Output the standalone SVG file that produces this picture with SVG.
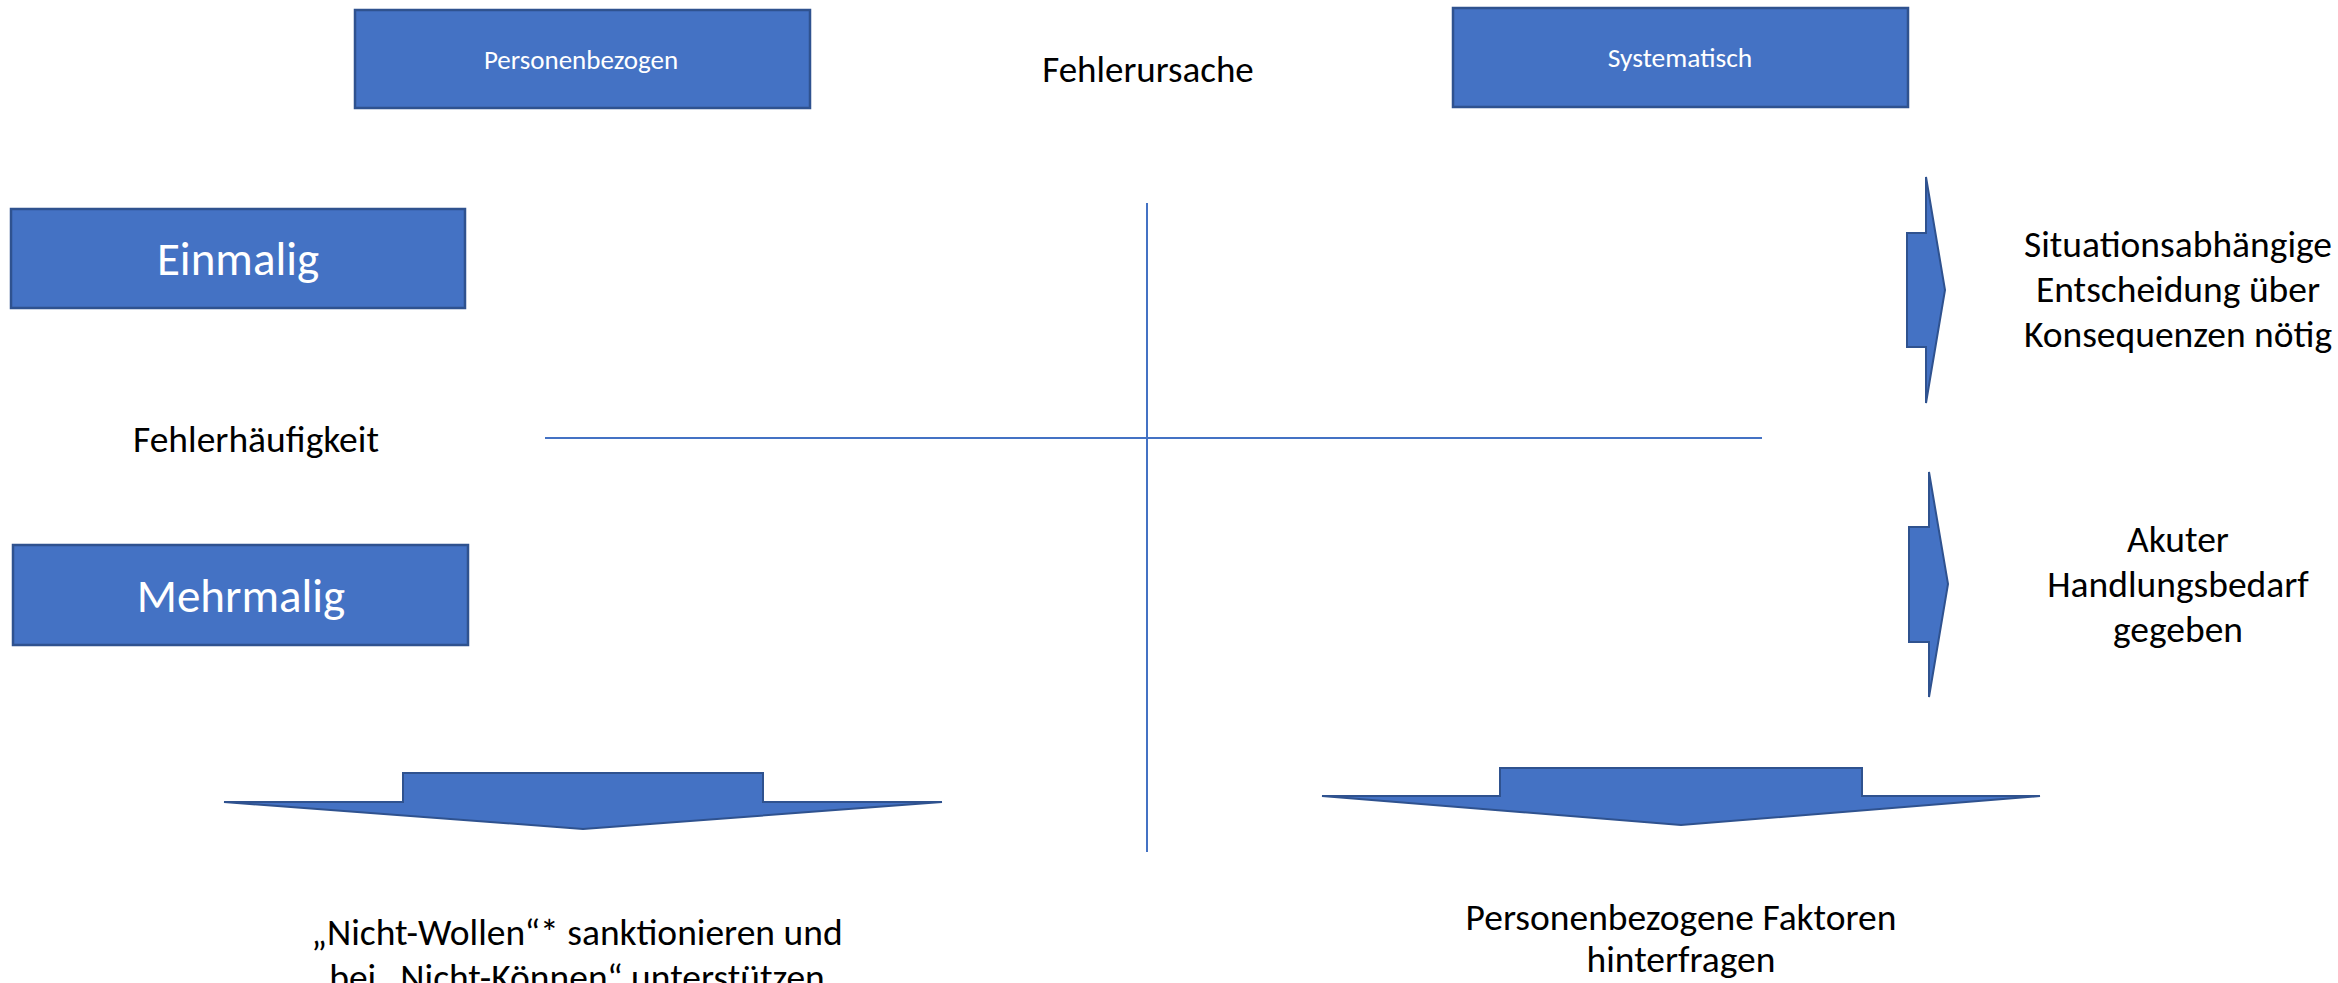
<svg xmlns="http://www.w3.org/2000/svg" width="2338" height="983" viewBox="0 0 2338 983">
<style>
.box{fill:#4472C4;stroke:#2F528F;stroke-width:2.5}
.arr{fill:#4472C4;stroke:#2F528F;stroke-width:2;stroke-linejoin:miter}
.axis{stroke:#4472C4;stroke-width:2;fill:none}
text{font-family:Calibri,Carlito,Lato,"Open Sans",sans-serif}
.wt{fill:#FFFFFF;text-anchor:middle}
.bt{fill:#000000;text-anchor:middle;font-size:37.5px}
</style>
<rect width="2338" height="983" fill="#FFFFFF"/>
<g id="axes">
<line class="axis" x1="1147" y1="203" x2="1147" y2="852"/>
<line class="axis" x1="545" y1="438" x2="1762" y2="438"/>
</g>
<g id="personenbezogen">
<rect class="box" x="355" y="10" width="455" height="98"/>
<text class="wt" x="581" y="69" font-size="27">Personenbezogen</text>
</g>
<g id="systematisch">
<rect class="box" x="1453" y="8" width="455" height="99"/>
<text class="wt" x="1680" y="67" font-size="27.5">Systematisch</text>
</g>
<g id="fehlerursache">
<text class="bt" x="1148" y="82" style="font-size:37px">Fehlerursache</text>
</g>
<g id="einmalig">
<rect class="box" x="11" y="209" width="454" height="99"/>
<text class="wt" x="238" y="275" font-size="47">Einmalig</text>
</g>
<g id="fehlerhaeufigkeit">
<text class="bt" x="256" y="452">Fehlerhäufigkeit</text>
</g>
<g id="mehrmalig">
<rect class="box" x="13" y="545" width="455" height="100"/>
<text class="wt" x="241" y="612" font-size="47">Mehrmalig</text>
</g>
<g id="arrow-right-1">
<polygon class="arr" points="1907,233 1926,233 1926,177 1945,290 1926,403 1926,347 1907,347"/>
</g>
<g id="text-right-1">
<text class="bt" x="2178" y="257">Situationsabhängige</text>
<text class="bt" x="2178" y="302">Entscheidung über</text>
<text class="bt" x="2178" y="347">Konsequenzen nötig</text>
</g>
<g id="arrow-right-2">
<polygon class="arr" points="1909,527 1929,527 1929,472 1948,584 1929,697 1929,642 1909,642"/>
</g>
<g id="text-right-2">
<text class="bt" x="2178" y="552">Akuter</text>
<text class="bt" x="2178" y="597">Handlungsbedarf</text>
<text class="bt" x="2178" y="642">gegeben</text>
</g>
<g id="arrow-down-1">
<polygon class="arr" points="224,802 403,802 403,773 763,773 763,802 942,802 583,829"/>
</g>
<g id="text-down-1">
<text class="bt" x="577" y="945">„Nicht-Wollen“* sanktionieren und</text>
<text class="bt" x="577" y="990">bei „Nicht-Können“ unterstützen</text>
</g>
<g id="arrow-down-2">
<polygon class="arr" points="1322,796 1500,796 1500,768 1862,768 1862,796 2040,796 1681,825"/>
</g>
<g id="text-down-2">
<text class="bt" x="1681" y="930">Personenbezogene Faktoren</text>
<text class="bt" x="1681" y="972">hinterfragen</text>
</g>
</svg>
